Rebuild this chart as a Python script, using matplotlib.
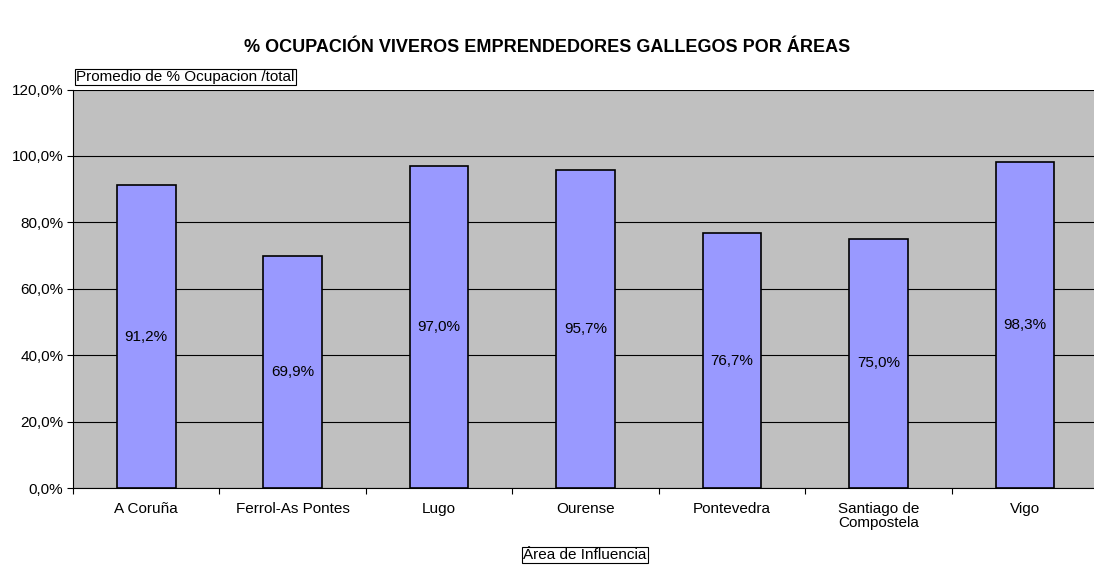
import matplotlib.pyplot as plt
from matplotlib.ticker import FuncFormatter, FixedLocator
import numpy as np

plt.rcParams['font.family'] = ['Liberation Sans', 'DejaVu Sans']

# datos
areas = ['A Coruña', 'Ferrol-As Pontes', 'Lugo', 'Ourense', 'Pontevedra',
         'Santiago de\nCompostela', 'Vigo']
ocupacion = [91.2, 69.9, 97.0, 95.7, 76.7, 75.0, 98.3]

FS = 11
W, H = 1094, 567
fig = plt.figure(figsize=(W / 100, H / 100), dpi=100)
# plot area in pixels: left 73, top 89.5, bottom 488, right ~1098
ax = fig.add_axes([73 / W, 1 - 488 / H, (1098 - 73) / W, (488 - 89.5) / H])
ax.set_facecolor('#C0C0C0')

x = np.arange(len(areas))
bars = ax.bar(x, ocupacion, width=0.4, color='#9999FF', edgecolor='black',
              linewidth=1.2, zorder=3)
for xi, v in zip(x, ocupacion):
    ax.text(xi, v / 2, '{:.1f}%'.format(v).replace('.', ','), ha='center',
            va='center', fontsize=FS, zorder=4)

ax.set_xlim(-0.5, len(areas) - 0.5)
ax.set_ylim(0, 120)
ax.set_yticks(np.arange(0, 121, 20))
ax.yaxis.set_major_formatter(FuncFormatter(lambda v, p: '{:.1f}%'.format(v).replace('.', ',')))
ax.grid(axis='y', color='black', linewidth=0.8, zorder=1)

# ticks between categories, labels centred
ax.xaxis.set_major_locator(FixedLocator(np.arange(-0.5, len(areas), 1.0)))
ax.xaxis.set_major_formatter(FuncFormatter(lambda v, p: ''))
ax.xaxis.set_minor_locator(FixedLocator(x))
ax.set_xticklabels(areas, minor=True, linespacing=1.0)
ax.tick_params(axis='x', which='minor', length=0, pad=10, labelsize=FS)
ax.tick_params(axis='x', which='major', length=4, width=0.8)
ax.tick_params(axis='y', length=4, width=0.8, labelsize=FS, pad=3)

for s in ['top', 'right']:
    ax.spines[s].set_visible(False)
ax.spines['left'].set_linewidth(0.8)
ax.spines['bottom'].set_linewidth(0.8)

fig.text(0.5, 1 - 47 / H, '% OCUPACIÓN VIVEROS EMPRENDEDORES GALLEGOS POR ÁREAS',
         ha='center', va='center', fontsize=13, fontweight='bold')
fig.text(76 / W, 1 - 77 / H, 'Promedio de % Ocupacion /total', ha='left',
         va='center', fontsize=FS,
         bbox=dict(facecolor='white', edgecolor='black', linewidth=0.8, pad=1.0))
fig.text(585 / W, 1 - 555 / H, 'Área de Influencia', ha='center', va='center',
         fontsize=FS,
         bbox=dict(facecolor='white', edgecolor='black', linewidth=0.8, pad=1.0))

fig.savefig('out.png', dpi=100)
